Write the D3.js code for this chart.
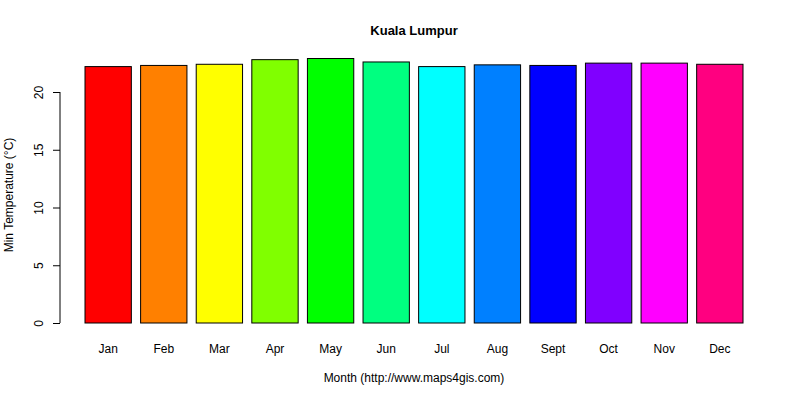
<!DOCTYPE html>
<html><head><meta charset="utf-8">
<script src="https://cdn.jsdelivr.net/npm/d3@7"></script>
<style>body{margin:0;background:#fff}text{font-family:Arial,"Liberation Sans",sans-serif}</style>
</head><body><svg id="c" width="800" height="400"></svg>
<script>
const months = ["Jan","Feb","Mar","Apr","May","Jun","Jul","Aug","Sept","Oct","Nov","Dec"];
const minTemp = [22.2,22.3,22.4,22.8,22.9,22.6,22.2,22.35,22.3,22.5,22.5,22.4];
const colors = ["#FF0000","#FF8000","#FFFF00","#80FF00","#00FF00","#00FF80","#00FFFF","#0080FF","#0000FF","#8000FF","#FF00FF","#FF0080"];
const yTicks = [0,5,10,15,20];

const svg = d3.select("#c");
const x = d3.scaleBand().domain(months).range([85,743]).paddingInner(0.2/1.2).paddingOuter(0);
const y = d3.scaleLinear().domain([0,20]).range([323,92]);

svg.selectAll("rect.bar").data(months).join("rect")
  .attr("x",d=>x(d)).attr("width",x.bandwidth())
  .attr("y",(d,i)=>y(minTemp[i])).attr("height",(d,i)=>y(0)-y(minTemp[i]))
  .attr("fill",(d,i)=>colors[i]).attr("stroke","#000").attr("stroke-width",1);

const ya = svg.append("g").attr("transform","translate(60,0)")
  .call(d3.axisLeft(y).tickValues(yTicks).tickSize(7).tickFormat(d3.format("d")));
ya.select(".domain").attr("d","M0,"+y(0)+"V"+y(20));
ya.selectAll("text").attr("font-size",12).attr("fill","#000")
  .attr("transform","rotate(-90,-21,0)").attr("x",-21).attr("y",0).attr("dy","0.35em")
  .attr("text-anchor","middle");

svg.selectAll("text.m").data(months).join("text").attr("class","m")
  .attr("x",d=>x(d)+x.bandwidth()/2).attr("y",353).attr("text-anchor","middle")
  .attr("font-size",12).text(d=>d);

svg.append("text").attr("x",414).attr("y",35).attr("text-anchor","middle")
  .attr("font-size",13).attr("font-weight","bold").text("Kuala Lumpur");
svg.append("text").attr("x",414).attr("y",382).attr("text-anchor","middle")
  .attr("font-size",12).text("Month (http://www.maps4gis.com)");
svg.append("text").attr("transform","translate(13,195) rotate(-90)").attr("text-anchor","middle")
  .attr("font-size",12).text("Min Temperature (°C)");
</script></body></html>
